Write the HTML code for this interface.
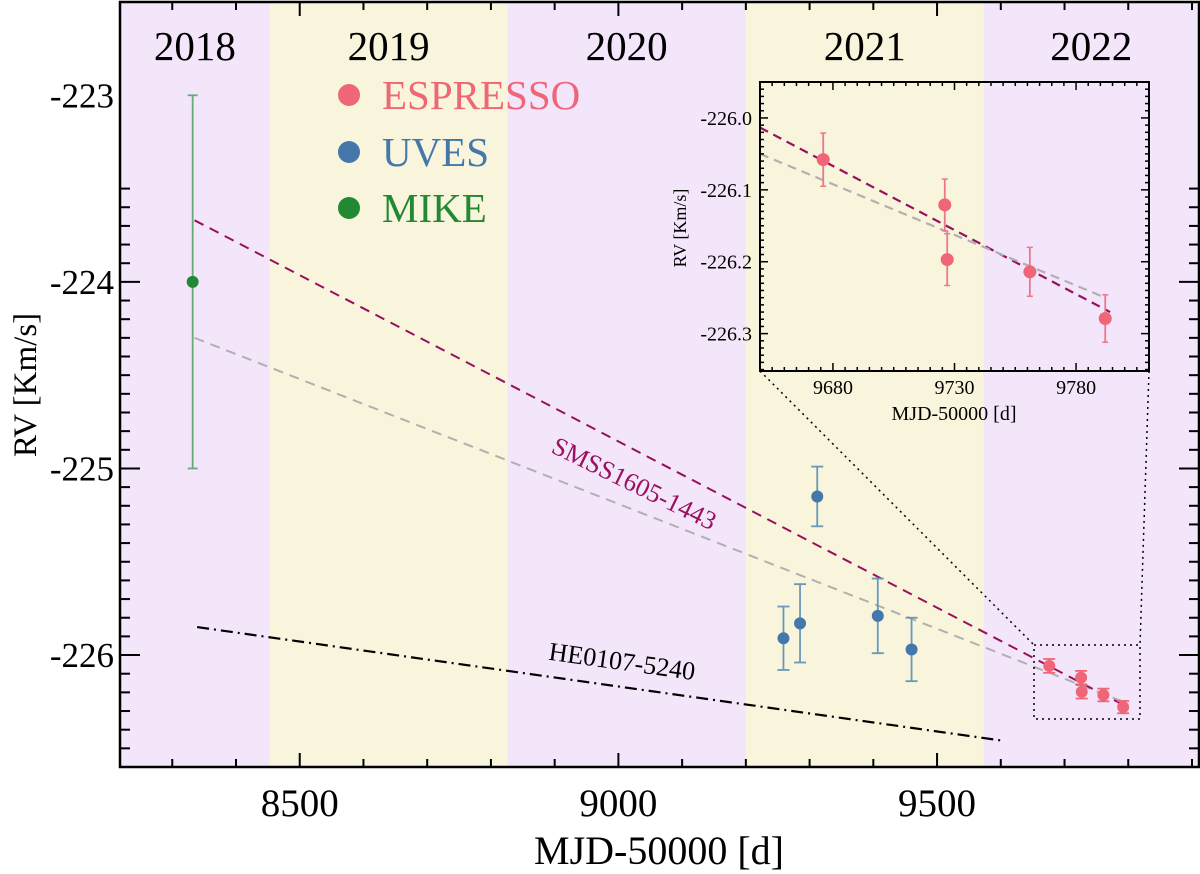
<!DOCTYPE html>
<html><head><meta charset="utf-8"><style>
html,body{margin:0;padding:0;background:#fff}
svg{display:block;font-family:"Liberation Serif",serif}
</style></head><body>
<svg id="chart" width="1200" height="874" viewBox="0 0 1200 874" xmlns="http://www.w3.org/2000/svg"></svg>
<script>
// ---- data ----
const yearLabels = ["2018","2019","2020","2021","2022"];
const yearStarts = [8218, 8453, 8826, 9200, 9573];
const yearEnds = [8453, 8826, 9200, 9573, 9911];
const espressoT = [9676, 9726, 9727, 9761, 9792];
const espressoRV = [-226.058, -226.121, -226.197, -226.214, -226.279];
const espressoErr = [0.037, 0.036, 0.036, 0.034, 0.033];
const uvesT = [9259, 9285, 9312, 9407, 9460];
const uvesRV = [-225.91, -225.83, -225.15, -225.79, -225.97];
const uvesErr = [0.17, 0.21, 0.16, 0.20, 0.17];
const mikeT = [8332];
const mikeRV = [-224.0];
const mikeErr = [1.0];
const smssFitT = [8335, 9794];
const smssFitRV = [-223.67, -226.27];
const grayFitT = [8335, 9792];
const grayFitRV = [-224.30, -226.25];
const heFitT = [8339, 9605];
const heFitRV = [-225.85, -226.46];
const xTicks = [8500, 9000, 9500];
const yTicks = [-223, -224, -225, -226];
const insetXTicks = [9680, 9730, 9780];
const insetYTicks = [-226.0, -226.1, -226.2, -226.3];
const insetYLabels = ["-226.0","-226.1","-226.2","-226.3"];

const svg = document.getElementById('chart');
const NS = "http://www.w3.org/2000/svg";
function mk(tag, attrs, parent){const e=document.createElementNS(NS,tag);for(const k in attrs)e.setAttribute(k,attrs[k]);(parent||svg).appendChild(e);return e;}

const X0=120,X1=1199,Y0=2,Y1=767;
const T0=8218,T1=9911,R0=-222.50,R1=-226.60;
const sx=t=>X0+(t-T0)/(T1-T0)*(X1-X0);
const sy=v=>Y0+(v-R0)/(R1-R0)*(Y1-Y0);
const IX0=760,IX1=1149,IY0=82,IY1=371;
const IT0=9650,IT1=9810,IR0=-225.95,IR1=-226.352;
const ix=t=>IX0+(t-IT0)/(IT1-IT0)*(IX1-IX0);
const iy=v=>IY0+(v-IR0)/(IR1-IR0)*(IY1-IY0);

yearLabels.forEach((lab,i)=>{
  const r=mk('rect',{x:sx(yearStarts[i]),y:Y0,width:sx(yearEnds[i])-sx(yearStarts[i]),height:Y1-Y0,fill:i%2?'#f8f5dc':'#f3e6fb'});
  
  
  const t=mk('text',{x:(sx(yearStarts[i])+sx(yearEnds[i]))/2,y:60,'text-anchor':'middle','font-size':41});
  t.textContent=lab;
  
  
});

const legItems=[["ESPRESSO","#ee6677",95],["UVES","#4477aa",152],["MIKE","#228833",208]];
legItems.forEach(([n,c,y])=>{
  const g=mk('g',{});
  
  
  mk('circle',{cx:349,cy:y,r:11,fill:c},g);
  const t=mk('text',{x:382,y:y+14,'font-size':41,fill:c},g);t.textContent=n;
});

function line(T,R,f,g,attrs,name){const l=mk('line',Object.assign({x1:f(T[0]),y1:g(R[0]),x2:f(T[1]),y2:g(R[1])},attrs));return l;}
line(grayFitT,grayFitRV,sx,sy,{stroke:'#b0b0b0','stroke-width':2,'stroke-dasharray':'10,7'},'gray-fit-line');
line(smssFitT,smssFitRV,sx,sy,{stroke:'#990f5f','stroke-width':2,'stroke-dasharray':'10,7'},'smss-fit-line');
line(heFitT,heFitRV,sx,sy,{stroke:'#000','stroke-width':2.2,'stroke-dasharray':'12,5,2,5'},'he0107-line');

const lab1=mk('text',{x:634,y:492,'text-anchor':'middle','font-size':26,fill:'#99115f',transform:'rotate(26 634 484)'});
lab1.textContent='SMSS1605-1443';

const lab2=mk('text',{x:622,y:670,'text-anchor':'middle','font-size':26,fill:'#000',transform:'rotate(8 622 662)'});
lab2.textContent='HE0107-5240';


function pts(T,R,E,col,ecol,f,g,rad,cap,name){
  T.forEach((t,i)=>{
    const grp=mk('g',{});
    
    
    const x=f(t),ya=g(R[i]+E[i]),yb=g(R[i]-E[i]);
    mk('line',{x1:x,y1:ya,x2:x,y2:yb,stroke:ecol,'stroke-width':1.8},grp);
    mk('line',{x1:x-cap,y1:ya,x2:x+cap,y2:ya,stroke:ecol,'stroke-width':1.8},grp);
    mk('line',{x1:x-cap,y1:yb,x2:x+cap,y2:yb,stroke:ecol,'stroke-width':1.8},grp);
    mk('circle',{cx:x,cy:g(R[i]),r:6,fill:col},grp);
  });
}
pts(mikeT,mikeRV,mikeErr,'#228833','#66aa77',sx,sy,6,5,'mike');
pts(uvesT,uvesRV,uvesErr,'#4477aa','#6699bb',sx,sy,6,6,'uves');
pts(espressoT,espressoRV,espressoErr,'#ee6677','#ee6677',sx,sy,6,6,'espresso');

const zb=mk('rect',{x:1034,y:645,width:106,height:74,fill:'none',stroke:'#000','stroke-width':1.5,'stroke-dasharray':'2,4'});

const c1=mk('line',{x1:IX0,y1:IY1,x2:1034,y2:645,stroke:'#000','stroke-width':1.5,'stroke-dasharray':'2,4'});

const c2=mk('line',{x1:IX1,y1:IY1,x2:1140,y2:645,stroke:'#000','stroke-width':1.5,'stroke-dasharray':'2,4'});


const fr=mk('rect',{x:X0,y:Y0,width:X1-X0,height:Y1-Y0,fill:'none',stroke:'#000','stroke-width':2.5});

for(let t=8300;t<=9900;t+=100){
  const major=(t%500===0), L=major?14:8;
  mk('line',{x1:sx(t),y1:Y1,x2:sx(t),y2:Y1-L,stroke:'#000','stroke-width':2});
  mk('line',{x1:sx(t),y1:Y0,x2:sx(t),y2:Y0+L,stroke:'#000','stroke-width':2});
}
for(let k=-2230-5;k>=-2265;k--){
  const v=k/10, major=(k%10===0), L=major?20:10;
  mk('line',{x1:X0,y1:sy(v),x2:X0+L,y2:sy(v),stroke:'#000','stroke-width':2});
  mk('line',{x1:X1,y1:sy(v),x2:X1-L,y2:sy(v),stroke:'#000','stroke-width':2});
}
xTicks.forEach(t=>{const e=mk('text',{x:sx(t),y:816,'text-anchor':'middle','font-size':39});e.textContent=t;
  });
yTicks.forEach(v=>{const e=mk('text',{x:114,y:sy(v)+12,'text-anchor':'end','font-size':35});e.textContent=v;
  });
const xt=mk('text',{x:659,y:864,'text-anchor':'middle','font-size':40});xt.textContent='MJD-50000 [d]';

const yt=mk('text',{x:0,y:0,'text-anchor':'middle','font-size':33,transform:'translate(36 385) rotate(-90)'});yt.textContent='RV [Km/s]';


const ig=mk('g',{});

mk('clipPath',{id:'ic'},ig).appendChild((()=>{const r=document.createElementNS(NS,'rect');r.setAttribute('x',IX0);r.setAttribute('y',IY0);r.setAttribute('width',IX1-IX0);r.setAttribute('height',IY1-IY0);return r;})());
const igc=mk('g',{'clip-path':'url(#ic)'},ig);
function iline(T,R,attrs,name){const l=mk('line',Object.assign({x1:ix(T[0]),y1:iy(R[0]),x2:ix(T[1]),y2:iy(R[1])},attrs),igc);}
const slopeS=(smssFitRV[1]-smssFitRV[0])/(smssFitT[1]-smssFitT[0]);
const slopeG=(grayFitRV[1]-grayFitRV[0])/(grayFitT[1]-grayFitT[0]);
iline([IT0,smssFitT[1]],[smssFitRV[1]+slopeS*(IT0-smssFitT[1]),smssFitRV[1]],{stroke:'#990f5f','stroke-width':2.2,'stroke-dasharray':'9,6'},'inset-smss-fit');
iline([IT0,grayFitT[1]],[grayFitRV[1]+slopeG*(IT0-grayFitT[1])+0.01,grayFitRV[1]],{stroke:'#b0b0b0','stroke-width':2.2,'stroke-dasharray':'9,6'},'inset-gray-fit');
espressoT.forEach((t,i)=>{
  const grp=mk('g',{},igc);
  
  
  const x=ix(t),ya=iy(espressoRV[i]+espressoErr[i]),yb=iy(espressoRV[i]-espressoErr[i]);
  mk('line',{x1:x,y1:ya,x2:x,y2:yb,stroke:'#ee7788','stroke-width':1.8},grp);
  mk('line',{x1:x-3,y1:ya,x2:x+3,y2:ya,stroke:'#ee7788','stroke-width':1.5},grp);
  mk('line',{x1:x-3,y1:yb,x2:x+3,y2:yb,stroke:'#ee7788','stroke-width':1.5},grp);
  mk('circle',{cx:x,cy:iy(espressoRV[i]),r:6.5,fill:'#ee6677'},grp);
});
mk('rect',{x:IX0,y:IY0,width:IX1-IX0,height:IY1-IY0,fill:'none',stroke:'#000','stroke-width':2},ig);
for(let t=9655;t<=9810;t+=5){
  const major=(t%50===30), L=major?8:4;
  mk('line',{x1:ix(t),y1:IY1,x2:ix(t),y2:IY1-L,stroke:'#000','stroke-width':1.5},ig);
  mk('line',{x1:ix(t),y1:IY0,x2:ix(t),y2:IY0+L,stroke:'#000','stroke-width':1.5},ig);
}
for(let k=-22596;k>=-22635;k--){
  const v=k/100, major=(k%10===0), L=major?8:4;
  mk('line',{x1:IX0,y1:iy(v),x2:IX0+L,y2:iy(v),stroke:'#000','stroke-width':1.5},ig);
  mk('line',{x1:IX1,y1:iy(v),x2:IX1-L,y2:iy(v),stroke:'#000','stroke-width':1.5},ig);
}
insetXTicks.forEach(t=>{const e=mk('text',{x:ix(t),y:394,'text-anchor':'middle','font-size':20},ig);e.textContent=t;
  });
insetYTicks.forEach((v,i)=>{const e=mk('text',{x:752,y:iy(v)+7,'text-anchor':'end','font-size':20},ig);e.textContent=insetYLabels[i];
  });
const ixt=mk('text',{x:954,y:420,'text-anchor':'middle','font-size':20},ig);ixt.textContent='MJD-50000 [d]';

const iyt=mk('text',{x:0,y:0,'text-anchor':'middle','font-size':18,transform:'translate(686 228) rotate(-90)'},ig);iyt.textContent='RV [Km/s]';

</script>
</body></html>
